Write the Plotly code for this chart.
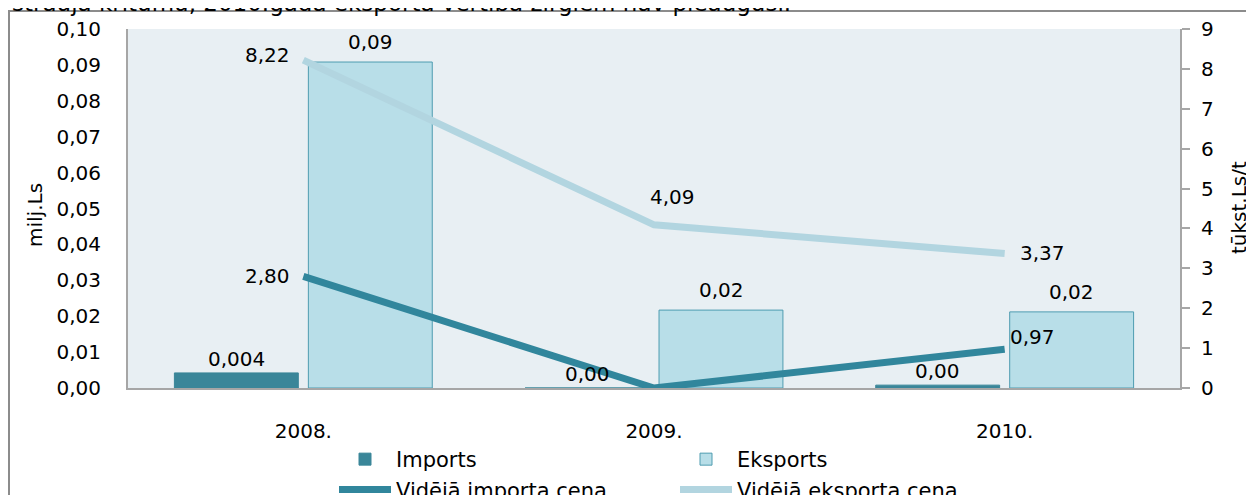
import plotly.graph_objects as go

# ---- data ----
years = ["2008.", "2009.", "2010."]
imports_value = [0.0042, 0.0, 0.0008]          # milj.Ls
exports_value = [0.0908, 0.0217, 0.0212]       # milj.Ls
import_price = [2.80, 0.00, 0.97]              # tūkst.Ls/t
export_price = [8.22, 4.09, 3.37]              # tūkst.Ls/t

imports_labels = ["0,004", "0,00", "0,00"]
exports_labels = ["0,09", "0,02", "0,02"]
import_price_labels = ["2,80", "", "0,97"]
export_price_labels = ["8,22", "4,09", "3,37"]

title_text = "straujā kritumu, 2010.gadā eksporta vērtība zirgiem nav pieaugusi."
y_title = "milj.Ls"
y2_title = "tūkst.Ls/t"

# ---- styles ----
FONT = "DejaVu Sans"
C_IMP = "#3A8699"
C_EXP_FILL = "#B8DEE8"
C_EXP_LINE = "#4E9CB0"
C_IMP_LINE = "#31869C"
C_EXP_PRICE = "#B2D5E0"
AXIS_GRAY = "#A6A6A6"
W, H = 1254, 495
OFF = 8                      # default page body margin of the html page
L, T = 128 - OFF, 29 - OFF
R, B = (W + OFF) - 1180, (H + OFF) - 388
PW, PH = W - L - R, H - T - B


def px_x(page_x):
    return (page_x - OFF - L) / PW


def px_y(page_y):
    return (T + PH - (page_y - OFF)) / PH


fig = go.Figure()
fig.add_trace(go.Bar(x=years, y=imports_value, name="Imports",
                     marker=dict(color=C_IMP, line=dict(color=C_IMP, width=1)),
                     yaxis="y", legend="legend"))
fig.add_trace(go.Bar(x=years, y=exports_value, name="Eksports",
                     marker=dict(color=C_EXP_FILL, line=dict(color=C_EXP_LINE, width=1)),
                     yaxis="y", legend="legend2"))
fig.add_trace(go.Scatter(x=years, y=import_price, name="Vidējā importa cena",
                         mode="lines", line=dict(color=C_IMP_LINE, width=7),
                         yaxis="y2", legend="legend"))
fig.add_trace(go.Scatter(x=years, y=export_price, name="Vidējā eksporta cena",
                         mode="lines", line=dict(color=C_EXP_PRICE, width=7),
                         yaxis="y2", legend="legend2"))

annotations = []
lab_font = dict(family=FONT, size=20, color="#000000")
# bar labels (x given as category index)
for i in range(len(years)):
    annotations.append(dict(x=i, y=imports_value[i], xref="x", yref="y",
                            text=imports_labels[i], showarrow=False, xshift=-67,
                            yshift=14, yanchor="middle", font=lab_font))
    annotations.append(dict(x=i, y=exports_value[i], xref="x", yref="y",
                            text=exports_labels[i], showarrow=False, xshift=67,
                            yshift=20, yanchor="middle", font=lab_font))
# line labels
imp_shift = [(-11, 0, "right"), (0, 0, "center"), (3, 12, "left")]
exp_shift = [(-11, 5, "right"), (18, 28, "center"), (13, 1, "left")]
for i in range(len(years)):
    if import_price_labels[i]:
        dx, dy, xa = imp_shift[i]
        annotations.append(dict(x=i, y=import_price[i], xref="x", yref="y2",
                                text=import_price_labels[i], showarrow=False,
                                xshift=dx, yshift=dy, xanchor=xa, yanchor="middle",
                                font=lab_font))
    dx, dy, xa = exp_shift[i]
    annotations.append(dict(x=i, y=export_price[i], xref="x", yref="y2",
                            text=export_price_labels[i], showarrow=False,
                            xshift=dx, yshift=dy, xanchor=xa, yanchor="middle",
                            font=lab_font))
# axis titles
annotations.append(dict(x=px_x(35), y=px_y(215), xref="paper", yref="paper",
                        text=y_title, textangle=-90, showarrow=False,
                        xanchor="center", yanchor="middle", font=lab_font))
annotations.append(dict(x=px_x(1239), y=px_y(208), xref="paper", yref="paper",
                        text=y2_title, textangle=-90, showarrow=False,
                        xanchor="center", yanchor="middle", font=lab_font))
# cut-off text at the top
annotations.append(dict(x=px_x(10), y=px_y(18), xref="paper", yref="paper",
                        text=title_text, showarrow=False, xanchor="left", yanchor="bottom",
                        font=dict(family=FONT, size=23, color="#000000")))

leg_common = dict(orientation="v", xref="container", yref="container",
                  xanchor="left", y=1 - (439 - OFF) / H, yanchor="top",
                  font=dict(family=FONT, size=21, color="#000000"),
                  itemwidth=52, tracegroupgap=0, bgcolor="rgba(0,0,0,0)",
                  traceorder="normal")

fig.update_layout(
    width=W, height=H,
    margin=dict(l=L, r=R, t=T, b=B, autoexpand=False),
    paper_bgcolor="#FFFFFF",
    plot_bgcolor="#E8EFF3",
    font=dict(family=FONT, size=20, color="#000000"),
    separators=", ",
    barmode="group",
    bargap=0.236,
    bargroupgap=0.075,
    showlegend=True,
    legend=dict(x=(334 - OFF) / W, **leg_common),
    legend2=dict(x=(675 - OFF) / W, **leg_common),
    annotations=annotations,
    xaxis=dict(type="category", range=[-0.5, 2.5], autorange=False, automargin=False,
               showline=True, linecolor=AXIS_GRAY, linewidth=2,
               ticks="", showgrid=False, ticklabelstandoff=24,
               tickfont=dict(family=FONT, size=20)),
    yaxis=dict(range=[0, 0.1], dtick=0.01, tickformat=".2f", showline=True, automargin=False,
               linecolor=AXIS_GRAY, linewidth=2, ticks="", showgrid=False,
               zeroline=False, ticklabelstandoff=21,
               tickfont=dict(family=FONT, size=20)),
    yaxis2=dict(range=[0, 9], dtick=1, overlaying="y", side="right", showline=True,
                automargin=False,
                linecolor=AXIS_GRAY, linewidth=2, ticks="outside", ticklen=8,
                tickcolor=AXIS_GRAY, tickwidth=1.5, showgrid=False, zeroline=False,
                ticklabelstandoff=7,
                tickfont=dict(family=FONT, size=20)),
    shapes=[dict(type="rect", xref="paper", yref="paper",
                 x0=px_x(9), x1=px_x(W + 30),
                 y0=px_y(H + 30), y1=px_y(11),
                 line=dict(color="#8C8C8C", width=2), fillcolor="rgba(0,0,0,0)",
                 layer="below")],
)

fig.write_html("out.html", config={"displayModeBar": False})
